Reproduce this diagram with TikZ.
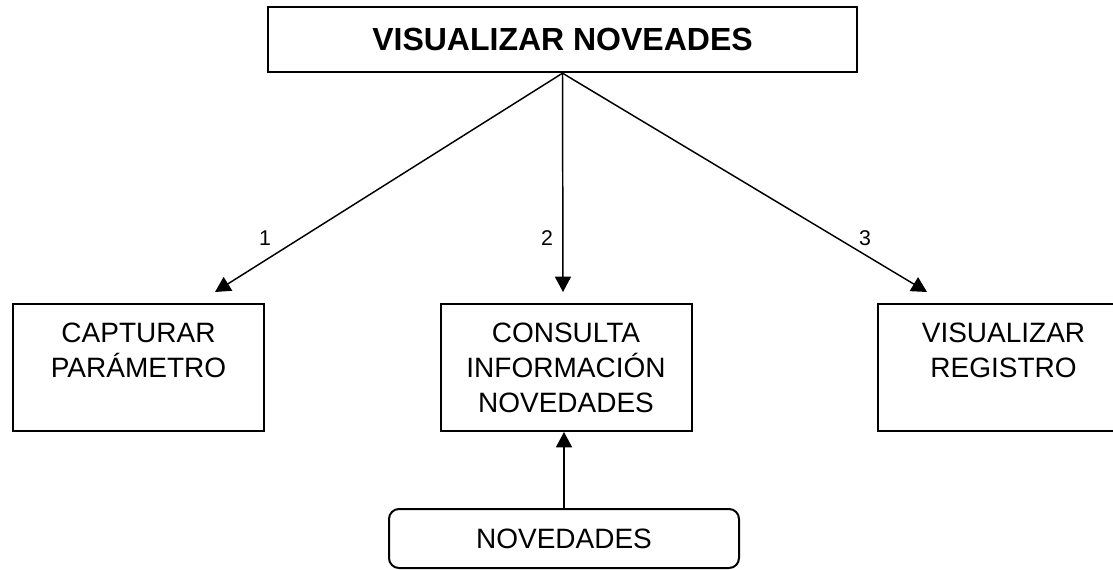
\documentclass[tikz,border=0pt]{standalone}
\usepackage{fontspec}
\setmainfont{Liberation Sans}
\usetikzlibrary{arrows.meta, positioning}
\tikzset{
  modulo/.style={draw=black, line width=1.5pt, align=center,
                 minimum width=188.25pt, minimum height=95.25pt,
                 inner sep=0pt, font=\fontsize{21}{26.25}\selectfont},
  titulo/.style={draw=black, line width=1.8pt, align=center,
                 minimum width=441.75pt, minimum height=48.75pt,
                 inner sep=0pt, font=\fontsize{24}{28}\selectfont\bfseries},
  datos/.style={draw=black, line width=1.5pt, rounded corners=7.5pt,
                minimum width=262.5pt, minimum height=44.25pt,
                inner sep=0pt, font=\fontsize{21}{26.25}\selectfont},
  flecha/.style={-{Triangle[length=11.5pt, width=12pt]}, line width=1.1pt},
  num/.style={font=\fontsize{16}{18}\selectfont},
}
\begin{document}
\begin{tikzpicture}[x=0.75pt, y=-0.75pt]
  \useasboundingbox (0,0) rectangle (1113,570);

  \node[titulo] (vis) at (562.5, 39.5) {VISUALIZAR NOVEADES};

  \node[modulo] (cap) at (138.5, 367.5)  {CAPTURAR\\PARÁMETRO\\~};
  \node[modulo] (con) at (566,   367.5)  {CONSULTA\\INFORMACIÓN\\NOVEDADES};
  \node[modulo] (reg) at (1003.5, 367.5) {VISUALIZAR\\REGISTRO\\~};

  \node[datos]  (nov) at (564, 538.5) {NOVEDADES};

  \coordinate (p1) at (215, 292);
  \coordinate (p2) at (563, 292);
  \coordinate (p3) at (927, 292);

  \draw[flecha] (vis.south) -- (p1);
  \draw[flecha] (vis.south) -- (p2);
  \draw[flecha] (vis.south) -- (p3);
  \draw[flecha] (nov.north) -- (nov.north |- con.south);

  \node[num] (n1) at (265, 238) {1};
  \node[num] (n2) at (547, 238) {2};
  \node[num] (n3) at (865, 238) {3};
\end{tikzpicture}
\end{document}
